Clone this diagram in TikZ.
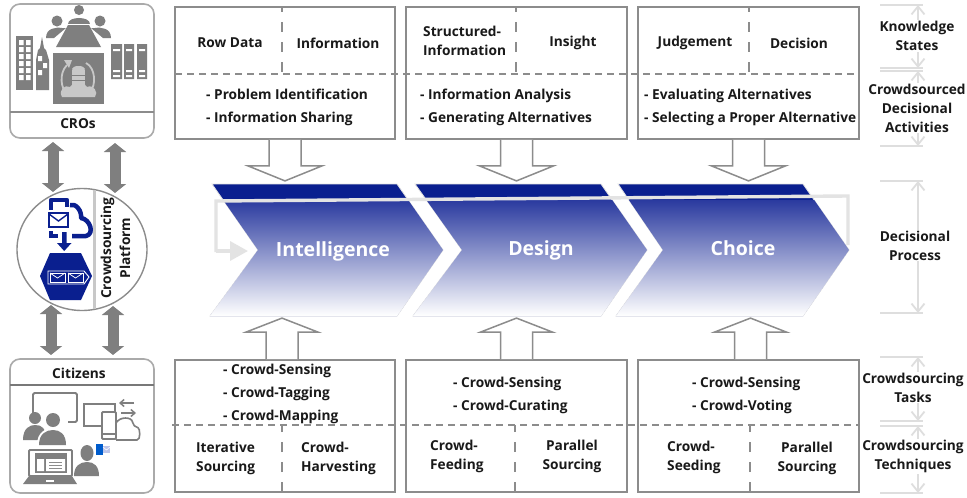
\documentclass[tikz,border=0pt]{standalone}
\usepackage{fontspec}
\setmainfont{Open Sans}
\usetikzlibrary{arrows.meta,calc}
\definecolor{bdr}{HTML}{8C8C8C}
\definecolor{icon}{HTML}{7F7F7F}
\definecolor{navy}{HTML}{0A1F8F}
\definecolor{navyB}{HTML}{2A3A9F}
\definecolor{pale}{HTML}{E3E3E3}
\definecolor{ann}{HTML}{DEDEDE}
\definecolor{lic}{HTML}{C8C8C8}
\tikzset{
  lab/.style={font=\fontsize{13.7}{19}\selectfont\bfseries,text=black!90,inner sep=0pt,align=center},
  labl/.style={lab,align=left,anchor=west},
  lst/.style={font=\fontsize{13.7}{23}\selectfont\bfseries,text=black!90,inner sep=0pt,align=left,anchor=west},
  big/.style={font=\fontsize{19.5}{20}\selectfont\bfseries,text=white,inner sep=0pt},
  tbox/.style={draw=bdr,line width=1.8pt,fill=white,inner sep=0pt},
  dashh/.style={draw=bdr,line width=2.6pt,dash pattern=on 7pt off 5pt},
  dashv/.style={draw=bdr,line width=2.6pt,dash pattern=on 10pt off 10pt},
  blockar/.style={draw=bdr,line width=1.5pt,fill=white},
  dbl/.style={draw=icon,line width=11pt,{Triangle[width=22pt,length=9pt]}-{Triangle[width=22pt,length=9pt]},shorten >=0pt,shorten <=0pt},
  annline/.style={draw=ann,line width=1.8pt},
  annarr/.style={draw=ann,line width=1.8pt,{Straight Barb[length=8pt,width=13pt]}-{Straight Barb[length=8pt,width=13pt]}},
  rbox/.style={draw=lic!85!black,line width=1.6pt,rounded corners=10pt,fill=white,inner sep=0pt},
  ic/.style={fill=icon,draw=none},
  ico/.style={draw=icon,line width=1.8pt,fill=white},
  chev/.style={fill=navy,draw=pale,line width=.8pt},
  palel/.style={draw=pale,line width=3.4pt},
}
\newcommand{\blockdown}[1]{\begin{scope}[shift={(#1.south)}]\draw[blockar] (-16,0)--(-16,26)--(-37,26)--(0,41)--(37,26)--(16,26)--(16,0);\end{scope}}
\newcommand{\blockup}[2]{\begin{scope}[shift={(#1.north)},xshift=#2pt]\draw[blockar] (-16,0)--(-16,-27)--(-36,-27)--(0,-41)--(36,-27)--(16,-27)--(16,0);\end{scope}}
\newcommand{\chevron}[5]{%
  \path[chev] (#1,184)--(#2,184)--(#3,250)--(#2,316)--(#4,316)--(#5,250)--cycle;
  \begin{scope}
    \clip (#1,184)--(#2,184)--(#3,250)--(#2,316)--(#4,316)--(#5,250)--cycle;
    \shade[top color=navyB,bottom color=white] (200,200) rectangle (860,316);
  \end{scope}
}
\begin{document}
\begin{tikzpicture}[x=1pt,y=-1pt]
\useasboundingbox (0,0) rectangle (967,498);
\fill[white] (0,0) rectangle (967,498);

% chevrons
\chevron{212}{397}{443}{210}{258}
\chevron{415}{601}{647}{413}{462}
\chevron{618}{803}{849}{616}{663}
\draw[palel] (216,252)--(216,201)--(848,196)--(848,245);
\draw[palel,-{Triangle[width=19pt,length=18pt]}] (216,251)--(248,251);
\node[big] (intel) at (333,251.5) {Intelligence};
\node[big] (design) at (541,250.5) {Design};
\node[big] (choice) at (743,248.5) {Choice};

% top boxes
\node[tbox,minimum width=220pt,minimum height=132pt] (t1) at (285,73) {};
\node[tbox,minimum width=221pt,minimum height=132pt] (t2) at (516.5,73) {};
\node[tbox,minimum width=221pt,minimum height=132pt] (t3) at (748.5,73) {};
\node[tbox,minimum width=220pt,minimum height=132pt] (b1) at (285,426) {};
\node[tbox,minimum width=221pt,minimum height=132pt] (b2) at (516.5,426) {};
\node[tbox,minimum width=221pt,minimum height=132pt] (b3) at (748.5,426) {};
\blockdown{t1}\blockdown{t2}\blockdown{t3}
\blockup{b1}{-3}\blockup{b2}{0}\blockup{b3}{2}
\draw[dashh] (175,74)--(860,74);
\draw[dashh] (172,425)--(860,425);
\draw[dashv,dash phase=5pt] (282,7)--(282,74);
\draw[dashv,dash phase=5pt] (516,7)--(516,74);
\draw[dashv,dash phase=5pt] (749,7)--(749,74);
\draw[dashv] (282,492)--(282,425);
\draw[dashv] (515,492)--(515,425);
\draw[dashv] (750,492)--(750,425);

\node[lab] (n1) at (230,43) {Row Data};
\node[lab] (n2) at (338,43) {Information};
\node[labl] (n3) at (423,40.5) {Structured-\\Information};
\node[lab] (n4) at (573,43) {Insight};
\node[lab] (n5) at (695,43) {Judgement};
\node[lab] (n6) at (799,43) {Decision};
\node[lst] (n7) at (206,107.5) {- Problem Identification\\- Information Sharing};
\node[lst] (n8) at (420,107.5) {- Information Analysis\\- Generating Alternatives};
\node[lst] (n9) at (644,107.5) {- Evaluating Alternatives\\- Selecting a Proper Alternative};
\node[lst] (n10) at (223,394) {- Crowd-Sensing\\- Crowd-Tagging\\- Crowd-Mapping};
\node[lst] (n11) at (453,395.5) {- Crowd-Sensing\\- Crowd-Curating};
\node[lst] (n12) at (692,395.5) {- Crowd-Sensing\\- Crowd-Voting};
\node[labl] (n13) at (196,458) {Iterative\\Sourcing};
\node[labl] (n14) at (301,458) {Crowd-\\Harvesting};
\node[labl] (n15) at (430,456) {Crowd-\\Feeding};
\node[lab] (n16) at (572,456) {Parallel\\Sourcing};
\node[labl] (n17) at (667,457) {Crowd-\\Seeding};
\node[lab] (n18) at (807,458) {Parallel\\Sourcing};

% right annotations
\foreach \y in {5,68,71,146,181,313,357,421,426,493}{\draw[annline] (880,\y)--(923,\y);}
\coordinate (k1) at (918,5);\coordinate (k2) at (918,68);
\coordinate (k3) at (918,71);\coordinate (k4) at (918,146);
\coordinate (k5) at (918,181);\coordinate (k6) at (918,313);
\coordinate (k7) at (918,357);\coordinate (k8) at (918,421);
\coordinate (k9) at (918,426);\coordinate (k10) at (918,493);
\draw[annarr] (k1)--(k2);\draw[annarr] (k3)--(k4);\draw[annarr] (k5)--(k6);
\draw[annarr] (k7)--(k8);\draw[annarr] (k9)--(k10);
\node[lab,fill=white,inner sep=1pt] (r1) at (917,36) {Knowledge\\States};
\node[lab,fill=white,inner sep=1pt] (r2) at (917,108) {Crowdsourced\\Decisional\\Activities};
\node[lab,fill=white,inner sep=1pt] (r3) at (915,245.5) {Decisional\\Process};
\node[lab,fill=white,inner sep=1pt] (r4) at (913,387.5) {Crowdsourcing\\Tasks};
\node[lab,fill=white,inner sep=1pt] (r5) at (913,456.5) {Crowdsourcing\\Techniques};

% left boxes
\node[rbox,minimum width=144pt,minimum height=134pt] (cro) at (82,71) {};
\node[rbox,minimum width=144pt,minimum height=134pt] (cit) at (82,426) {};
\draw[draw=lic!70!black,line width=1.4pt] (10,112)--(154,112);
\draw[draw=lic!60!black,line width=1.4pt] (10,385)--(154,385);
\node[lab] (crol) at (78,124) {CROs};
\node[lab] (citl) at (79,373.5) {Citizens};

% platform
\draw[draw=bdr,line width=1.4pt,fill=white] (82,249.5) ellipse [x radius=65,y radius=61];
\draw[draw=lic,line width=3pt] (94,190)--(94,309);
\node[lab,rotate=90] (plat) at (115.5,248) {Crowdsourcing\\Platform};

% double arrows
\coordinate (a1) at (53,142);\coordinate (a2) at (53,192);
\coordinate (a3) at (115,143);\coordinate (a4) at (115,193);
\coordinate (a5) at (51,305);\coordinate (a6) at (51,355);
\coordinate (a7) at (113,306);\coordinate (a8) at (113,355);
\draw[dbl] (a1)--(a2);\draw[dbl] (a3)--(a4);\draw[dbl] (a5)--(a6);\draw[dbl] (a7)--(a8);

% platform icons
\fill[navy] (50,253)--(81,253)--(92,276)--(81,300)--(50,300)--(40,276)--cycle;
\draw[white,line width=.9pt] (48,271)--(84,271)--(89,277)--(84,284)--(48,284)--cycle;
\draw[white,line width=1pt] (50,273) rectangle (65,282) (68,273) rectangle (83,282);
\draw[white,line width=.7pt] (50,273)--(57.5,278)--(65,273) (68,273)--(75.5,278)--(83,273);
\draw[navy,line width=4.5pt,line join=round] (51,210)--(51,200)--(67,200)--(67,207);
\draw[navy,line width=4.5pt,line join=round] (70,205) .. controls (76,203) and (82,211) .. (81,218) .. controls (90,219) and (95,234) .. (86,236)--(72,236);
\draw[navy,line width=4.5pt] (51,231)--(51,236)--(58,236);
\draw[navy,line width=1.8pt,fill=white] (49,213) rectangle (68,227);
\draw[navy,line width=1.4pt] (49,214)--(58.5,221)--(68,214);
\fill[navy] (62,232) rectangle (66.5,243) (57,243)--(71.5,243)--(64.2,251)--cycle;

% CRO icons
\fill[ic] (79,10) circle [radius=5];
\fill[ic] (68,24) .. controls (68,16) and (90,16) .. (90,24) -- cycle;
\fill[ic] (68,25)--(89,25)--(101,47)--(56,47)--cycle;
\fill[ic] (57,21) circle [radius=5.5];
\fill[ic] (46,38) .. controls (46,28) and (56,27) .. (62,28)--(66,28)--(54,38)--cycle;
\fill[ic] (100,21) circle [radius=5.5];
\fill[ic] (111,38) .. controls (111,28) and (101,27) .. (95,28)--(91,28)--(103,38)--cycle;
\fill[ic] (16,36) rectangle (33,90);
\foreach \yy in {40,47,54,61,68,75}{\fill[white] (19,\yy) rectangle (23.5,\yy+5) (26,\yy) rectangle (30.5,\yy+5);}
\fill[ic] (36,90)--(36,60)--(38,50)--(40,48)--(42,37)--(44,48)--(46,50)--(49,60)--(49,90)--cycle;
\fill[white] (38,56) rectangle (42,61) (43,63) rectangle (47,68) (38,70) rectangle (42,75);
\fill[ic] (53,53) rectangle (104,104);
\draw[lic,line width=1.8pt] (67,65) .. controls (58,74) and (62,90) .. (66,92);
\draw[lic,line width=1.8pt] (86,63) .. controls (96,68) and (96,86) .. (90,92);
\fill[lic] (64,60)--(72,60)--(69,68)--cycle;
\fill[lic] (72,70) rectangle (85,87);
\fill[lic] (78.5,69) ellipse [x radius=6.5,y radius=3];
\draw[icon,line width=.6pt] (72,75)--(85,75) (72,80)--(85,80);
\fill[lic] (62,97) .. controls (58,90) and (65,84) .. (70,87) .. controls (74,81) and (85,81) .. (87,87) .. controls (93,84) and (99,92) .. (95,97) -- cycle;
\fill[ic] (111,44) rectangle (122,79) (124,44) rectangle (134,79) (137,44) rectangle (147,79);
\foreach \xa/\xb in {113/120,126/132,139/145}{\fill[white] (\xa,49) rectangle (\xb,51) (\xa,70) rectangle (\xb,72) (\xa,75) rectangle (\xb,77);}

% citizen icons
\draw[ico,rounded corners=1.5pt] (33,393) rectangle (77,422);
\fill[white] (25,416) rectangle (68,447);
\fill[ic] (35,418) circle [radius=6];
\fill[ic] (23,440) .. controls (23,428) and (30,425) .. (35,425) .. controls (42,425) and (46,428) .. (46,440) -- cycle;
\fill[white] (53,420) circle [radius=9];
\fill[ic] (53,420) circle [radius=7];
\fill[white] (37,445) .. controls (37,432) and (46,428) .. (53,428) .. controls (60,428) and (68,432) .. (68,445) -- cycle;
\fill[ic] (39,445) .. controls (39,434) and (46,430) .. (53,430) .. controls (60,430) and (66,434) .. (66,445) -- cycle;
\draw[ico] (84,404) rectangle (115,426);
\draw[draw=icon,line width=1.6pt,rounded corners=5pt] (116,440)--(132,440) .. controls (141,440) and (140,428) .. (133,427) .. controls (132,417) and (120,416) .. (116,423);
\draw[ico,fill=white,rounded corners=1pt] (102,412) rectangle (116,439);
\fill[ic] (102,433) rectangle (116,435);
\draw[icon,line width=1.5pt,-{Straight Barb[length=4pt,width=7pt]}] (134,403)--(119,403);
\draw[icon,line width=1.5pt,-{Straight Barb[length=4pt,width=7pt]}] (121,413)--(136,413);
\draw[ico,rounded corners=1pt] (29,450) rectangle (72,476);
\fill[ic] (23,484)--(29,476)--(72,476)--(77,484)--cycle;
\fill[white] (46,480) rectangle (54,482);
\fill[ic] (35,453) rectangle (67,473);
\fill[white] (37,459) rectangle (44,471) (46,459) rectangle (65,471);
\draw[lic!70!black,line width=.7pt] (49,462)--(62,462) (49,465)--(62,465) (49,468)--(62,468);
\fill[ic] (87,453) ellipse [x radius=6.5,y radius=8];
\fill[ic] (74,476) .. controls (74,466) and (80,462) .. (87,462) .. controls (94,462) and (99,466) .. (99,476) -- cycle;
\fill[blue!55!cyan!80!black] (96,444) rectangle (103,455);
\fill[cyan!35!blue!25] (103,446) rectangle (110,453);
\draw[white,line width=.6pt] (103,447)--(106.5,450)--(110,447);
\end{tikzpicture}
\end{document}
